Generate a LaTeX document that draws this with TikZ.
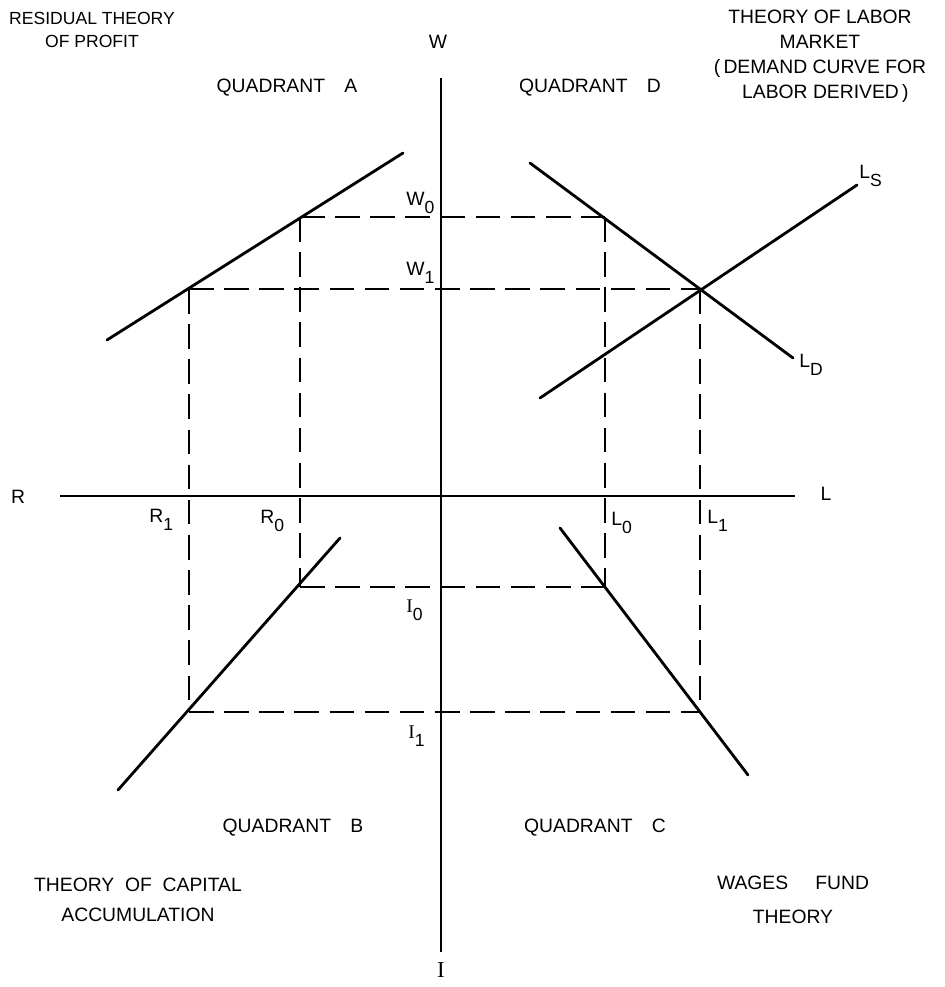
\documentclass[tikz,border=0pt]{standalone}
\usepackage{fontspec}
\setmainfont{Liberation Sans}
\newfontfamily\romanfont{Liberation Serif}
\usetikzlibrary{positioning, calc}

\newcommand{\lsub}[1]{\raisebox{-0.8ex}{\fontsize{10}{10}\selectfont #1}}

\begin{document}
\begin{tikzpicture}[
    x=0.02cm, y=-0.02cm,
    every node/.style={font=\fontsize{11}{14.2}\selectfont, inner sep=0pt},
    axisline/.style={line width=1.7pt},
    curve/.style={line width=1.6pt, line cap=round},
    guide/.style={line width=1.1pt, dash pattern=on 14pt off 6pt},
    note/.style={align=center},
    tag/.style={anchor=base west},
]
\useasboundingbox (0,0) rectangle (945,987);

% axes
\coordinate (wtop) at (441,78);
\coordinate (ibot) at (441,952);
\coordinate (rend) at (60,496);
\coordinate (lend) at (795,496);
\draw[axisline] (wtop) -- (ibot);
\draw[axisline] (rend) -- (lend);
\node (W) at (438,42) {W};
\node (I) at (441,970) {\romanfont\fontsize{13}{13}\selectfont I};
\node (R) at (18,497) {R};
\node (L) at (826,494) {L};

% points where the guides meet the curves
\coordinate (a0) at (300,217);
\coordinate (a1) at (189,289);
\coordinate (d0) at (605,217);
\coordinate (d1) at (700,289);
\coordinate (b0) at (300,587);
\coordinate (b1) at (189,712);
\coordinate (c0) at (605,587);
\coordinate (c1) at (700,712);

% curve ends
\coordinate (aS) at (107,340);
\coordinate (aE) at (403,153);
\coordinate (ldS) at (530,163);
\coordinate (ldE) at (793,358);
\coordinate (lsS) at (540,398);
\coordinate (lsE) at (857,185);
\coordinate (bS) at (118,790);
\coordinate (bE) at (340,538);
\coordinate (cS) at (560,528);
\coordinate (cE) at (748,775);

\draw[curve] (aS) -- (aE);
\draw[curve] (ldS) -- (ldE);
\draw[curve] (lsS) -- (lsE);
\draw[curve] (bS) -- (bE);
\draw[curve] (cS) -- (cE);

% dashed guides
\draw[guide] (a0) -- (d0);
\draw[guide] (a1) -- (d1);
\draw[guide] (b0) -- (c0);
\draw[guide] (b1) -- (c1);
\draw[guide] (a0) -- (b0);
\draw[guide] (a1) -- (b1);
\draw[guide] (d0) -- (c0);
\draw[guide] (d1) -- (c1);

% value labels
\node[tag] (W0) at (406,205) {W\lsub{0}};
\node[tag] (W1) at (406,275) {W\lsub{1}};
\node[tag] (R1) at (149,522) {R\lsub{1}};
\node[tag] (R0) at (260,523) {R\lsub{0}};
\node[tag] (L0) at (611,525) {L\lsub{0}};
\node[tag] (L1) at (707,523) {L\lsub{1}};
\node[tag] (I0) at (406,612) {{\romanfont I}\lsub{0}};
\node[tag] (I1) at (408,738) {{\romanfont I}\lsub{1}};
\node[tag] (LS) at (859,178) {L\lsub{S}};
\node[tag] (LD) at (799,367) {L\lsub{D}};

% quadrant titles
\node (qa) at (287,88) {QUADRANT\quad A};
\node (qd) at (590,88) {QUADRANT\quad D};
\node (qb) at (293,828) {QUADRANT\quad B};
\node (qc) at (595,828) {QUADRANT\quad C};

% theories
\node[note, font=\fontsize{10}{13}\selectfont] (profit) at (92,30) {RESIDUAL THEORY\\OF PROFIT};
\node[note] (labor) at (820,56) {THEORY OF LABOR\\MARKET\\(\,DEMAND CURVE FOR\\\ \ LABOR DERIVED\,)};
\node[note] (capital) at (138,900) {THEORY\ \ OF\ \ CAPITAL\\[3pt]ACCUMULATION};
\node[note] (fund) at (793,900) {WAGES\hspace{1.4em}FUND\\[5pt]THEORY};
\end{tikzpicture}
\end{document}
